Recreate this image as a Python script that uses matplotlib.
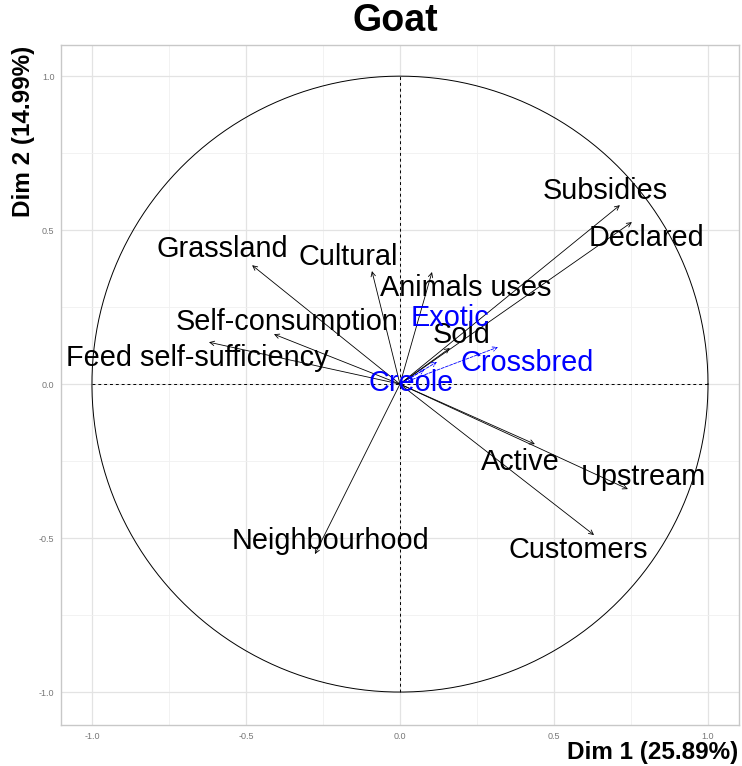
import matplotlib
matplotlib.use('Agg')
import matplotlib.pyplot as plt
import numpy as np

# Active variables: coordinates on Dim 1 / Dim 2
variables = ['Subsidies', 'Declared', 'Animals uses', 'Cultural', 'Grassland',
             'Self-consumption', 'Feed self-sufficiency', 'Neighbourhood',
             'Active', 'Upstream', 'Customers', 'Sold']
dim1 = [0.714, 0.753, 0.104, -0.091, -0.480, -0.409, -0.620, -0.276,
        0.438, 0.740, 0.630, 0.162]
dim2 = [0.581, 0.526, 0.364, 0.367, 0.386, 0.162, 0.136, -0.552,
        -0.195, -0.341, -0.490, 0.117]

# Supplementary variables
supp = ['Exotic', 'Crossbred', 'Creole']
supp_dim1 = [0.120, 0.318, 0.080]
supp_dim2 = [0.072, 0.120, 0.048]

# label positions (as placed by the repel step in the original)
label_xy = {
    'Subsidies': (0.666, 0.627), 'Declared': (0.799, 0.474),
    'Animals uses': (0.214, 0.312), 'Cultural': (-0.169, 0.412),
    'Grassland': (-0.578, 0.438), 'Self-consumption': (-0.367, 0.201),
    'Feed self-sufficiency': (-0.659, 0.084), 'Neighbourhood': (-0.227, -0.510),
    'Active': (0.390, -0.253), 'Upstream': (0.789, -0.302),
    'Customers': (0.578, -0.539), 'Sold': (0.201, 0.159),
    'Exotic': (0.162, 0.214), 'Crossbred': (0.412, 0.068), 'Creole': (0.036, 0.003),
}

plt.rcParams['font.family'] = ['Liberation Sans', 'DejaVu Sans']

fig = plt.figure(figsize=(7.42, 7.66), dpi=100)
ax = fig.add_axes([0.0828, 0.0535, 0.9133, 0.8877])
ax.set_xlim(-1.099, 1.101)
ax.set_ylim(-1.107, 1.101)

# grid
ax.set_xticks([-1.0, -0.5, 0.0, 0.5, 1.0])
ax.set_yticks([-1.0, -0.5, 0.0, 0.5, 1.0])
ax.set_xticks([-0.75, -0.25, 0.25, 0.75], minor=True)
ax.set_yticks([-0.75, -0.25, 0.25, 0.75], minor=True)
ax.grid(which='major', color='#E3E3E3', lw=0.9)
ax.grid(which='minor', color='#F0F0F0', lw=0.6)
ax.set_axisbelow(True)
ax.tick_params(which='both', length=0, labelsize=6.5, labelcolor='#777777', pad=5)
ax.set_xticklabels(['-1.0', '-0.5', '0.0', '0.5', '1.0'])
ax.set_yticklabels(['-1.0', '-0.5', '0.0', '0.5', '1.0'])
for s in ax.spines.values():
    s.set_color('#C8C8C8')
    s.set_linewidth(1.0)

# correlation circle and axes through origin
t = np.linspace(0, 2 * np.pi, 400)
ax.plot(np.cos(t), np.sin(t), color='black', lw=0.7)
ax.plot([-1, 1], [0, 0], color='black', lw=0.7, ls=(0, (3, 3)))
ax.plot([0, 0], [-1, 1], color='black', lw=0.7, ls=(0, (3, 3)))

# active variable arrows
for name, x, y in zip(variables, dim1, dim2):
    ax.annotate('', xy=(x, y), xytext=(0, 0),
                arrowprops=dict(arrowstyle='->', color='black', lw=0.6,
                                mutation_scale=8, shrinkA=0, shrinkB=0))
    lx, ly = label_xy[name]
    ax.text(lx, ly, name, fontsize=20.8, color='black', ha='center', va='center')

# supplementary variable arrows
for name, x, y in zip(supp, supp_dim1, supp_dim2):
    ax.annotate('', xy=(x, y), xytext=(0, 0),
                arrowprops=dict(arrowstyle='->', color='blue', lw=0.6, ls='--',
                                mutation_scale=8, shrinkA=0, shrinkB=0))
    lx, ly = label_xy[name]
    ax.text(lx, ly, name, fontsize=20.8, color='blue', ha='center', va='center')

fig.text(0.533, 0.973, 'Goat', fontsize=27, fontweight='bold', ha='center', va='center')
fig.text(0.995, 0.017, 'Dim 1 (25.89%)', fontsize=17.5, fontweight='bold',
         ha='right', va='center')
fig.text(0.031, 0.94, 'Dim 2 (14.99%)', fontsize=17.5, fontweight='bold',
         ha='center', va='top', rotation=90)

fig.savefig('out.png', dpi=100)
